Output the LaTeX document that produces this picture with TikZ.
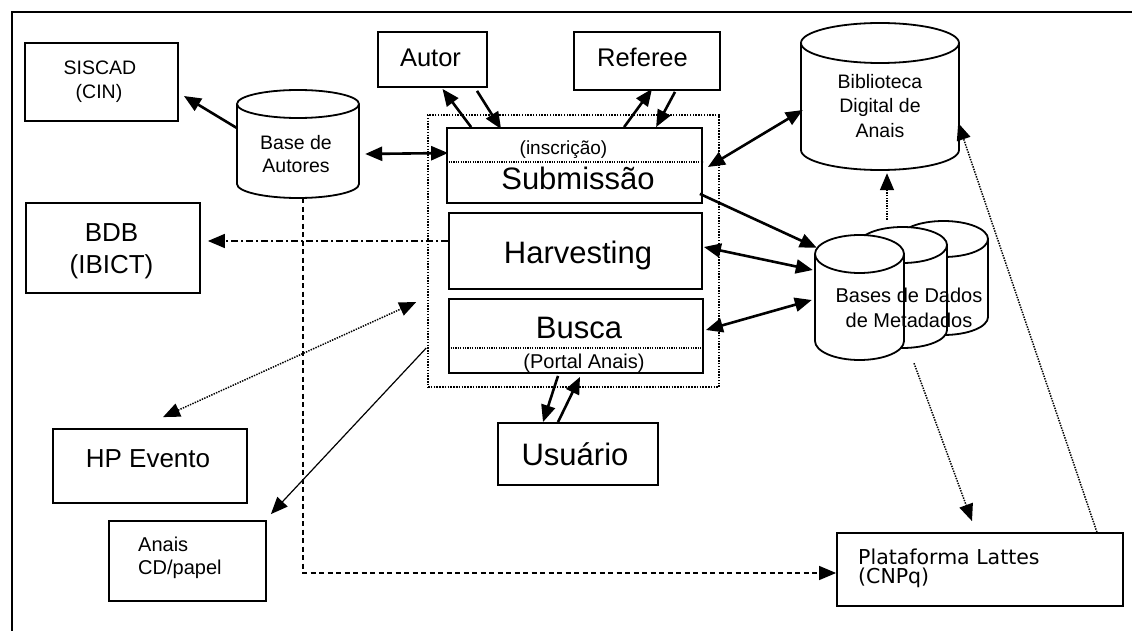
\documentclass[tikz,border=0pt]{standalone}
\usepackage{fontspec}
\setmainfont{Liberation Sans}
\newfontfamily\verdanalike{DejaVu Sans}
\usetikzlibrary{arrows.meta,calc}

\newcommand{\fs}[1]{\fontsize{#1}{#1}\selectfont}

% database cylinder: centre x, top-ellipse y, x radius, y radius, bottom-ellipse y
\newcommand{\dbcyl}[5]{%
  \filldraw[cylline] ({#1-#3},#2) -- ({#1-#3},#5)
    arc[start angle=180,end angle=360,x radius=#3pt,y radius=#4pt]
    -- ({#1+#3},#2)
    arc[start angle=0,end angle=180,x radius=#3pt,y radius=#4pt] -- cycle;
  \draw[cylline] ({#1-#3},#2)
    arc[start angle=180,end angle=360,x radius=#3pt,y radius=#4pt];}

\tikzset{
  box/.style={draw, line width=1.8pt, fill=white, inner sep=0pt},
  anchorbox/.style={draw=none, inner sep=0pt},
  cylline/.style={line width=1.8pt, fill=white},
  lbl/.style={anchor=base, inner sep=0pt},
  lblw/.style={anchor=base west, inner sep=0pt},
  conn/.style={line width=2.6pt},
  thinconn/.style={line width=1.2pt},
  dotconn/.style={line width=1.5pt, dash pattern=on 1.4pt off 1.2pt},
  dashdot/.style={line width=1.5pt, dash pattern=on 7pt off 3pt on 2pt off 3pt},
  dashconn/.style={line width=1.3pt, dash pattern=on 5pt off 3.5pt},
  sysbox/.style={draw, line width=1.5pt, dash pattern=on 1.5pt off 1.3pt, inner sep=0pt},
  innerdot/.style={line width=1.1pt, dash pattern=on 1.2pt off 1.2pt},
  >={Triangle[length=17pt,width=14pt]}
}

\begin{document}
\begin{tikzpicture}[x=1pt,y=-1pt]
\useasboundingbox (0,0) rectangle (1132,631);

% page frame
\draw[line width=1.5pt] (12,631) -- (12,12) -- (1132,12);

% system frame
\node[sysbox, minimum width=291pt, minimum height=272pt] (sys) at (573.5,251) {};

% boxes
\node[box, minimum width=153pt, minimum height=78pt] (siscad) at (101.5,82) {};
\node[lbl, font=\fs{19.5}] (siscadA) at (100,75) {SISCAD};
\node[lbl, font=\fs{19.5}] (siscadB) at (99,99) {(CIN)};

\node[box, minimum width=174pt, minimum height=90pt] (bdb) at (113,248) {};
\node[lbl, font=\fs{26}] (bdbA) at (111.5,241) {BDB};
\node[lbl, font=\fs{26}] (bdbB) at (111.5,273) {(IBICT)};

\node[box, minimum width=109pt, minimum height=55pt] (autor) at (432.5,59.5) {};
\node[lbl, font=\fs{25.5}] (autorT) at (430.5,67) {Autor};

\node[box, minimum width=146pt, minimum height=58pt] (referee) at (647,61) {};
\node[lbl, font=\fs{25.5}] (refereeT) at (642.5,67) {Referee};

\node[box, minimum width=255pt, minimum height=75pt] (sub) at (574.5,165.5) {};
\draw[innerdot] ($(sub.west)+(0,-3.5)$) -- ($(sub.east)+(0,-3.5)$);
\node[lbl, font=\fs{19}] (inscr) at (563.5,155) {(inscrição)};
\node[lbl, font=\fs{31}] (subT) at (578,190) {Submissão};

\node[box, minimum width=253pt, minimum height=76pt] (harv) at (575.5,251) {};
\node[lbl, font=\fs{31}] (harvT) at (578,263) {Harvesting};

\node[box, minimum width=254pt, minimum height=74pt] (busca) at (576,336) {};
\draw[innerdot] ($(busca.west)+(0,12)$) -- ($(busca.east)+(0,12)$);
\node[lbl, font=\fs{31}] (buscaT) at (579,338) {Busca};
\node[lbl, font=\fs{20}] (portal) at (584,368) {(Portal Anais)};

\node[box, minimum width=160pt, minimum height=62pt] (usuario) at (578,454) {};
\node[lbl, font=\fs{31}] (usuarioT) at (575,465) {Usuário};

\node[box, minimum width=194pt, minimum height=74pt] (hpe) at (150,466) {};
\node[lbl, font=\fs{26}] (hpeT) at (148,467) {HP Evento};

\node[box, minimum width=157pt, minimum height=80pt] (anais) at (187.5,561) {};
\node[lblw, font=\fs{20}] (anaisA) at (138,551) {Anais};
\node[lblw, font=\fs{20}] (anaisB) at (138,574) {CD/papel};

\node[box, minimum width=286pt, minimum height=73pt] (lattes) at (980,569.5) {};
\node[lblw, font=\verdanalike\fs{20.5}] (lattesA) at (858,564) {Plataforma Lattes};
\node[lblw, font=\verdanalike\fs{20.5}] (lattesB) at (858,583) {(CNPq)};

% databases
\dbcyl{298}{104}{61}{14}{184}
\node[anchorbox, minimum width=122pt, minimum height=108pt] (bda) at (298,144) {};
\node[lbl, font=\fs{19.5}] (bdaA) at (296,150) {Base de};
\node[lbl, font=\fs{19.5}] (bdaB) at (296,173) {Autores};

\dbcyl{880}{43}{79}{20}{150}
\node[anchorbox, minimum width=158pt, minimum height=147pt] (bib) at (880,96.5) {};
\node[lbl, font=\fs{19.5}] (bibA) at (880,89) {Biblioteca};
\node[lbl, font=\fs{19.5}] (bibB) at (880,113) {Digital de};
\node[lbl, font=\fs{19.5}] (bibC) at (880,138) {Anais};

\dbcyl{943.5}{239}{44.5}{18}{317}
\node[anchorbox, minimum width=89pt, minimum height=114pt] (metaB) at (943.5,278) {};
\dbcyl{902.5}{245}{44.5}{18}{330}
\node[anchorbox, minimum width=89pt, minimum height=121pt] (metaM) at (902.5,287.5) {};
\dbcyl{859.5}{254}{44.5}{19}{341}
\node[anchorbox, minimum width=89pt, minimum height=125pt] (metaF) at (859.5,297.5) {};
\node[lbl, font=\fs{20}] (metaA) at (909,302) {Bases de Dados};
\node[lbl, font=\fs{20}] (metaBT) at (909,327) {de Metadados};

% connectors
\draw[conn,->] ($(bda.west)+(0,-16)$) -- ($(siscad.east)+(5,14)$);
\draw[conn,<->] ($(bda.east)+(6,10)$) -- ($(sub.west)+(2,-12.5)$);

\draw[conn,->] ($(sub.north west)+(25,0)$) -- ($(autor.south)+(10,1)$);
\draw[conn,->] ($(autor.south)+(44.5,3)$) -- ($(sub.north west)+(55,2)$);
\draw[conn,->] ($(sub.north west)+(178,0)$) -- ($(referee.south)+(5,-2)$);
\draw[conn,->] ($(referee.south)+(28,1)$) -- ($(sub.north west)+(210,0)$);

\draw[conn,<->] ($(sub.east)+(5,1.5)$) -- ($(bib.west)+(2,13.5)$);
\draw[conn,->] ($(sub.south east)+(-3,-10)$) -- ($(metaF.north west)+(2,13)$);
\draw[conn,<->] ($(harv.east)+(1,-4)$) -- ($(metaF.west)+(-2,-27.5)$);
\draw[conn,<->] ($(busca.east)+(2,-6)$) -- ($(metaF.west)+(-3,2.5)$);

\draw[dotconn,->] ($(metaM.north)+(-15.5,-7)$) -- ($(bib.south)+(7,3)$);
\draw[dotconn,->] ($(metaF.south)+(54.5,3)$) -- ($(lattes.north)+(-8,-11)$);
\draw[dotconn,->] ($(lattes.north east)+(-27,0)$) -- ($(bib.east)+(-1,26.5)$);

\draw[conn,->] ($(busca.south)+(-18,2)$) -- ($(usuario.north)+(-35,0)$);
\draw[conn,->] ($(usuario.north)+(-20,0)$) -- ($(busca.south)+(4,3)$);

\draw[dashdot,->] ($(harv.west)+(0,-10)$) -- ($(bdb.east)+(7,-7)$);
\draw[dotconn,<->] ($(hpe.north)+(13,-11)$) -- ($(sys.west)+(-11,51)$);
\draw[thinconn,->] ($(sys.west)+(-1,97)$) -- ($(anais.north east)+(4,-6)$);
\draw[dashconn,->] ($(bda.south)+(5,0)$) |- ($(lattes.west)+(0,3.5)$);

\end{tikzpicture}
\end{document}
